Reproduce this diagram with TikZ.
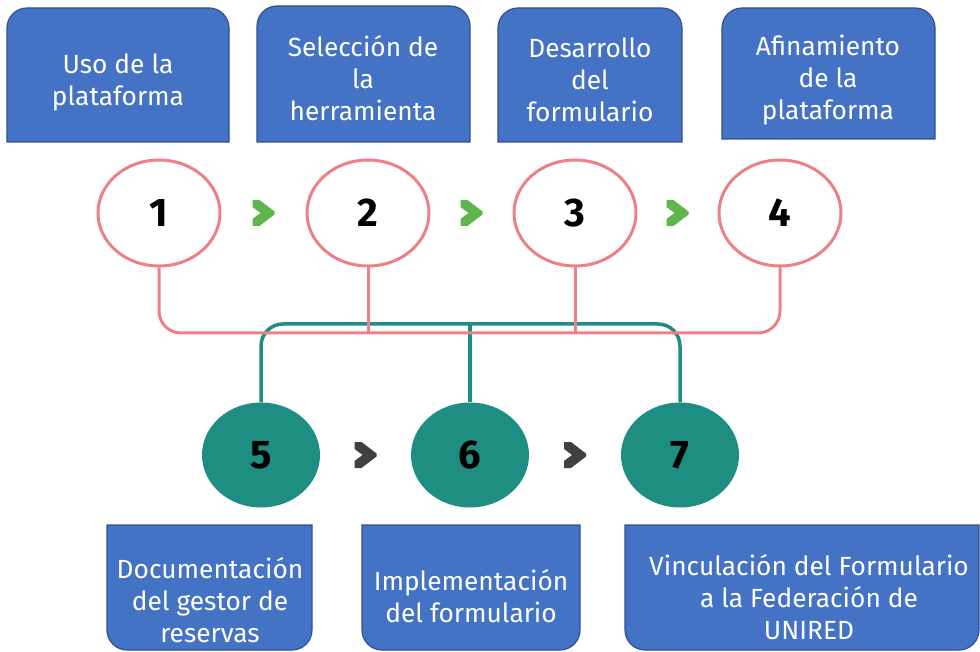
\documentclass[tikz,border=0pt]{standalone}
\usepackage{fontspec}
\setmainfont{Fira Sans}
\usetikzlibrary{shapes.geometric,calc}

\definecolor{cardblue}{HTML}{4472C4}
\definecolor{cardedge}{HTML}{2F528F}
\definecolor{rosa}{HTML}{EC8084}
\definecolor{verdeazul}{HTML}{1E8E82}
\definecolor{flechaverde}{HTML}{5DB54B}
\definecolor{flechagris}{HTML}{404040}

\tikzset{
  card/.style={fill=cardblue,draw=cardedge,line width=1.2pt},
  cardtext/.style={text=white,align=center,font=\fontsize{26.3}{32}\selectfont},
  topnum/.style={ellipse,draw=rosa,line width=3pt,fill=white,minimum width=122pt,minimum height=106pt,font=\fontsize{40}{40}\selectfont\bfseries},
  botnum/.style={ellipse,fill=verdeazul,minimum width=118pt,minimum height=105pt,font=\fontsize{40}{40}\selectfont\bfseries},
  rosaline/.style={draw=rosa,line width=3pt},
  tealline/.style={draw=verdeazul,line width=3.5pt},
  chev/.pic={\fill (-11,-13) -- (-4,-13) -- (11,-1.5) -- (11,1.5) -- (-4,13) -- (-11,13) -- (-11,6) -- (-3,0) -- (-11,-6) -- cycle;}
}

\begin{document}
\begin{tikzpicture}[x=1pt,y=-1pt]
    \useasboundingbox (0,0) rectangle (980,652);
    % tarjetas de arriba
    \filldraw[card] (7,142) [rounded corners=20pt] -- (7,8) -- (229,8) [sharp corners] -- (229,142) -- cycle;
    \filldraw[card] (257,142) [rounded corners=20pt] -- (257,6) -- (470,6) [sharp corners] -- (470,142) -- cycle;
    \filldraw[card] (498,142) [rounded corners=20pt] -- (498,8) -- (682,8) [sharp corners] -- (682,142) -- cycle;
    \filldraw[card] (722,139) [rounded corners=20pt] -- (722,8) -- (935,8) [sharp corners] -- (935,139) -- cycle;
    \node[cardtext] (t1) at (118,82) {Uso de la\\plataforma};
    \node[cardtext] (t2) at (363,78.5) {Selección de\\la\\herramienta};
    \node[cardtext] (t3) at (590,79.5) {Desarrollo\\del\\formulario};
    \node[cardtext] (t4) at (828,80) {Afinamiento\\de la\\plataforma};
    % tarjetas de abajo
    \filldraw[card] (312,525) -- (107,525) [rounded corners=20pt] -- (107,650) -- (312,650) [sharp corners] -- cycle;
    \filldraw[card] (580,525) -- (362,525) [rounded corners=20pt] -- (362,650) -- (580,650) [sharp corners] -- cycle;
    \filldraw[card] (979,525) -- (625,525) [rounded corners=20pt] -- (625,650) -- (979,650) [sharp corners] -- cycle;
    \node[cardtext] (t5) at (210,600) {Documentación\\del gestor de\\reservas};
    \node[cardtext] (t6) at (471,596) {Implementación\\del formulario};
    \node[cardtext] (t7) at (809,597) {Vinculación del Formulario\\a la Federación de\\UNIRED};
    % circulos
    \coordinate (tbus) at (470,324);
    \coordinate (pbus) at (470,333);
    \node[botnum] (c5) at (261,455) {5};
    \node[botnum] (c6) at (470,455) {6};
    \node[botnum] (c7) at (680,455) {7};
    \draw[tealline,rounded corners=22pt] (c5.north) |- (tbus) -| (c7.north);
    \draw[tealline] (c6.north) -- (c6.north |- tbus);
    \node[topnum] (c1) at (159,213) {1};
    \node[topnum] (c2) at (368,213) {2};
    \node[topnum] (c3) at (575,213) {3};
    \node[topnum] (c4) at (780,213) {4};
    \draw[rosaline,rounded corners=22pt] (c1.south) |- (pbus) -| (c4.south);
    \draw[rosaline] (c2.south) -- (c2.south |- pbus);
    \draw[rosaline] (c3.south) -- (c3.south |- pbus);
    % flechas
    \pic[color=flechaverde] at ($(c1)!0.5!(c2)$) {chev};
    \pic[color=flechaverde] at ($(c2)!0.5!(c3)$) {chev};
    \pic[color=flechaverde] at ($(c3)!0.5!(c4)$) {chev};
    \pic[color=flechagris] at ($(c5)!0.5!(c6)$) {chev};
    \pic[color=flechagris] at ($(c6)!0.5!(c7)$) {chev};
\end{tikzpicture}
\end{document}
